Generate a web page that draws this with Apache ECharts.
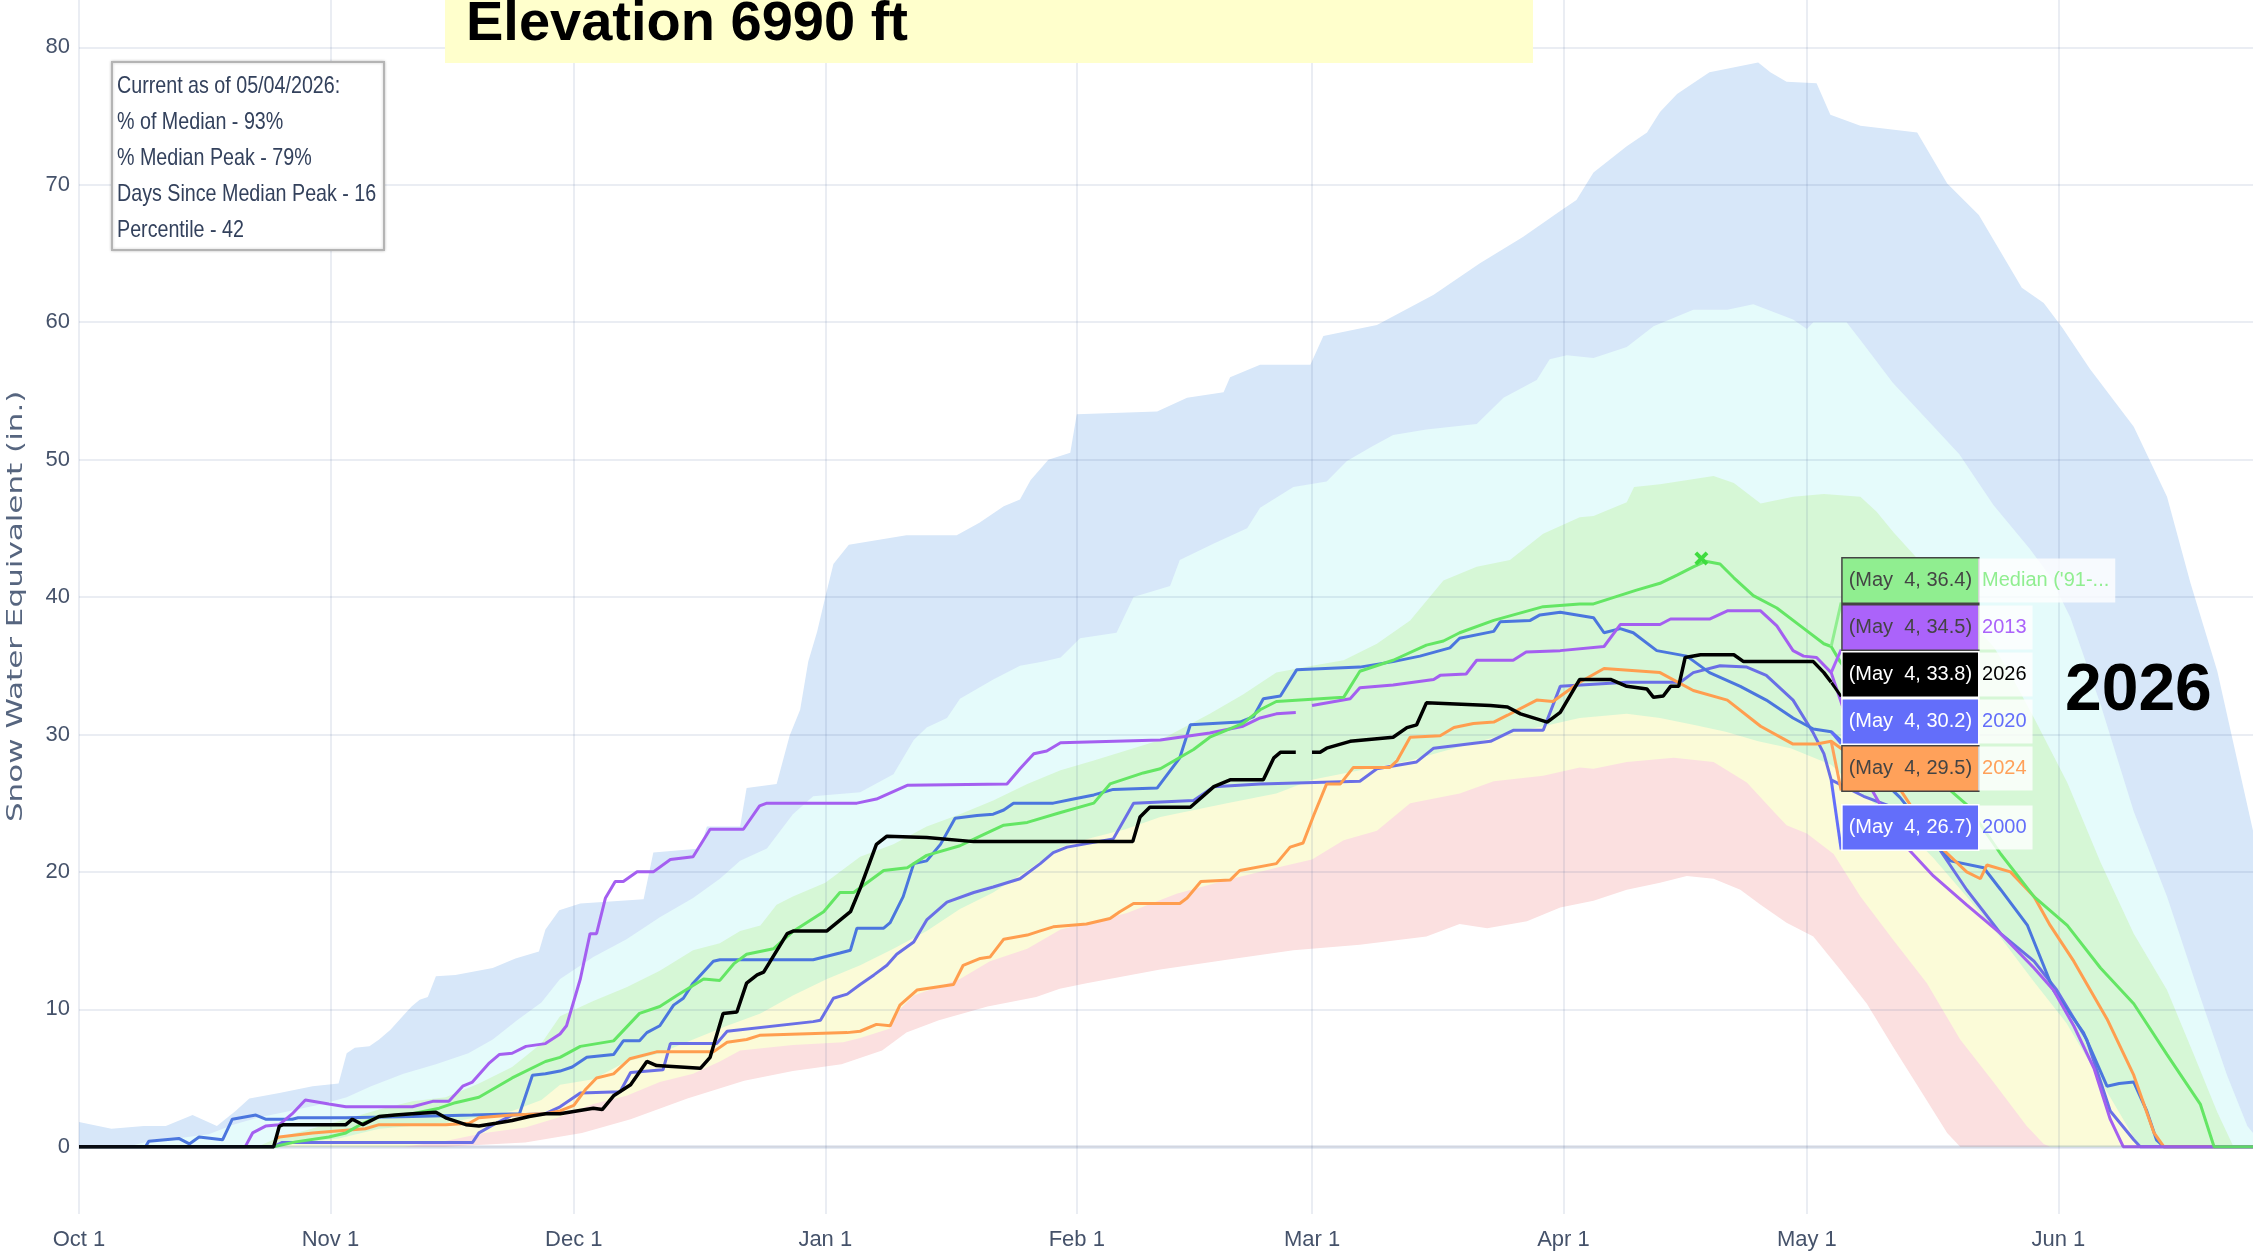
<!DOCTYPE html>
<html>
<head>
<meta charset="utf-8">
<title>Snow Water Equivalent - Elevation 6990 ft</title>
<script src="https://cdn.jsdelivr.net/npm/echarts@6/dist/echarts.min.js"></script>
<style>
  html, body { margin: 0; padding: 0; background: #fff; }
  #main { width: 2253px; height: 1256px; }
</style>
</head>
<body>
<div id="main"></div>
<script>
// x = day counted from Oct 1 on a leap-year calendar (Feb 29 kept as a slot)
var tickDays = [0, 31, 61, 92, 123, 152, 183, 213, 244];
var tickLabels = ['Oct 1', 'Nov 1', 'Dec 1', 'Jan 1', 'Feb 1', 'Mar 1', 'Apr 1', 'May 1', 'Jun 1'];
var yTicks = [0, 10, 20, 30, 40, 50, 60, 70, 80];

// percentile band edges (in.)
var bandMax = [[0,1.8],[4,1.3],[8,1.5],[10.7,1.5],[14,2.3],[17,1.5],[19.3,2.6],[21,3.5],[24.7,3.9],[28.8,4.4],[32,4.6],[33,6.8],[34,7.2],[35.8,7.3],[37,7.8],[38.4,8.5],[39.9,9.5],[41,10.2],[42,10.7],[43,10.9],[44,12.4],[46.4,12.5],[51,13],[53.8,13.7],[56.7,14.2],[57.5,15.8],[59.2,17.2],[61.8,17.7],[69.6,18],[70.8,21.4],[76.6,21.7],[77.4,23.3],[81.5,23.3],[82.3,26.1],[86,26.4],[87.6,29.9],[88.9,31.8],[89.9,35.3],[91,37.5],[92,40],[93,42.4],[94.9,43.8],[102,44.5],[108.2,44.5],[111,45.4],[114,46.6],[116,47.1],[117.3,48.5],[119.5,50],[122.2,50.5],[123,53.3],[132.9,53.5],[136.6,54.5],[141.1,54.9],[141.9,56],[145.6,56.9],[151.8,56.9],[153.4,59],[160,59.8],[167,62],[172.7,64.3],[178,66.2],[182.6,68.1],[184.6,68.9],[186.7,70.9],[190.8,72.8],[193.3,73.8],[194.9,75.3],[197,76.6],[201,78.2],[207,78.9],[208.5,78.2],[210.5,77.5],[214.2,77.4],[215.9,75.1],[219.6,74.3],[226.6,73.8],[230.3,70.1],[234.2,67.8],[239.5,62.5],[242.2,61.4],[244.5,59.6],[247.9,56.6],[253.3,52.4],[257.4,47.3],[260.3,41],[263.6,34.6],[268,23]];
var bandP90 = [[0,0],[6,0],[8,0.3],[12,0.6],[16,0.9],[19,1.6],[22,2.1],[26,2.6],[30,3.1],[33,3.6],[36,4.4],[40,5.3],[44,6],[48,6.8],[51,7.8],[54,9.2],[57,10.5],[59.3,12.2],[63.4,13.8],[67.5,15.1],[71.6,16.7],[75.7,18.1],[79,19.5],[81.5,20.8],[84.8,21.7],[88,24.2],[90.5,25.5],[96.3,25.8],[100.4,27.1],[102.9,29.6],[104.5,30.5],[107,31.2],[108.6,32.6],[112.7,34],[116,35],[118.9,35.3],[121,35.6],[123.4,37],[127.9,37.4],[130,40],[134.5,40.8],[135.7,42.7],[139.9,43.9],[144,45],[145.6,46.5],[149.7,48],[153.8,48.4],[156.3,49.9],[159.5,51],[162,51.8],[166.1,52.2],[172.3,52.6],[175.6,54.5],[179.7,55.8],[181.3,57.3],[183.4,57.6],[186.7,57.4],[190.8,58.2],[194.1,59.7],[199,60.9],[203.2,60.9],[206.4,61.3],[211.3,60.2],[213,59.5],[213.8,60],[217.9,60],[219.6,58.7],[223.6,55.6],[227.7,53],[231.8,50.4],[236,46.7],[240.5,43.5],[243,41.5],[245.5,38.5],[249.2,32.2],[253.3,24.4],[257.4,18.2],[261.5,10.9],[264.8,5.2],[267.3,1.5],[268,1]];
var bandP70 = [[0,0],[22,0],[24.7,0.7],[28,1.2],[32.9,2],[37,2.7],[41.1,3.3],[45.2,3.6],[49.3,4.6],[53.4,5.8],[57,7.5],[59.3,9.5],[63.4,10.6],[67.5,11.6],[71.6,12.8],[75.7,14.3],[79,14.8],[81.5,15.7],[84,16.1],[86,17.6],[88,18.2],[92,19.2],[96.3,21.1],[100.4,22],[104.5,23.3],[108.6,24.2],[112.7,25.2],[116.9,26.4],[121,27.4],[125.1,28.1],[133.3,29.6],[139.4,31.5],[143.5,32.9],[147.6,34.5],[152,35],[155.9,35.4],[160,36.6],[164.1,38.3],[168.2,41.2],[172.3,42.2],[176.4,42.7],[180.5,44.6],[185,45.8],[186.7,45.9],[190.8,46.9],[191.7,48],[194.9,48.2],[201.5,48.8],[204,48.3],[207.3,46.8],[211.3,47.3],[215.1,47.5],[219.6,47.3],[221.6,46.2],[223.7,44.7],[227.7,42.1],[231.8,39],[236,36.4],[238,34.5],[241,31.2],[245.1,26.5],[249.2,20.7],[253.3,15.5],[257.4,11.4],[260.7,6.7],[263.6,2.5],[265.6,0],[268,0]];
var bandP30 = [[0,0],[24,0],[26,0.2],[32,0.6],[37,1.3],[45,1.7],[53.4,2.6],[57,3.4],[59.3,4.5],[63.4,4.9],[67.5,6.2],[71.6,6.8],[75.7,7.8],[79.9,8.8],[84,9.7],[88,11],[92.2,12.2],[96.3,13.2],[100.4,14.4],[104.5,15.7],[108.6,17.3],[112.7,18.5],[116.9,20.1],[121,21.8],[125,22.5],[129,23.1],[133.3,24],[141.5,25],[147.6,25.7],[152,26.7],[157.9,27.4],[164.1,28.1],[170.2,29.1],[176.4,30.1],[180.5,30.6],[185,31.2],[190.8,31.5],[194.9,31.2],[199,30.7],[203,30.2],[207,29.5],[211,29],[216,27.8],[220,25.6],[224.5,23.5],[228.6,21],[232.7,18.2],[236.9,15.2],[241,12],[245,9],[249,5],[252,2],[254,0],[268,0]];
var bandP10 = [[0,0],[40,0],[45,0.4],[50,1],[55,1.4],[59,2.1],[63.4,3.1],[67.5,3.7],[71.6,4.7],[75.7,5.3],[79,6.2],[81.5,7],[88,7.4],[94.2,7.6],[96.3,7.9],[100,8.6],[101.2,10],[102.9,11],[108.6,12.2],[112.3,13.5],[116.9,14.4],[121,15.8],[129.2,17],[135.3,18.4],[141.5,19.4],[147.6,20.3],[152,20.9],[155.9,22.3],[160,23],[164.1,25],[170.2,25.7],[174.4,26.6],[180.5,27],[185,27.6],[186.7,27.5],[190.8,28],[196.6,28.3],[201.5,28],[205.6,26.5],[208.9,24.4],[210.5,23.4],[213,22.8],[216.3,21.3],[219.6,18.2],[223.7,15],[227.8,11.9],[231.9,7.8],[236,4.7],[240.1,1.5],[242.2,0.2],[243,0],[268,0]];
var bandMin = [[0,0],[45,0],[55,0.3],[62,1],[68,2],[75,3.5],[82,4.8],[88,5.5],[94,6],[99,7],[102,8.3],[106,9.2],[112,10.2],[118,10.9],[120.9,11.5],[124.2,11.9],[133.3,12.9],[141.5,13.6],[149.7,14.3],[157.9,14.7],[166.1,15.3],[170.2,16.2],[173.6,15.9],[178.5,16.4],[182.6,17.4],[186.7,17.9],[190.8,18.7],[194.9,19.2],[198.2,19.7],[201.5,19.5],[204.8,18.7],[207.3,17.6],[210.5,16.3],[213.8,15.3],[217.1,12.9],[220.4,10.4],[223.7,7.2],[227,4.1],[230.3,1],[231.9,0],[268,0]];

// median and selected years (in.)
var median = [[0,0],[24,0],[26.7,0.35],[30.8,0.7],[32.9,1],[35,1.7],[37,2.2],[41.1,2.4],[44.4,2.8],[46.4,3.2],[49.3,3.6],[53.4,5],[57.5,6.2],[59.3,6.5],[61.8,7.3],[65.9,7.7],[69.1,9.7],[71.6,10.2],[73.7,11],[77,12.2],[79,12.1],[80.7,13.3],[82.3,14],[85.6,14.4],[88.1,15.7],[91.8,17.1],[93.8,18.5],[95.5,18.5],[99.2,20.1],[102.1,20.3],[104.5,21.2],[108.6,21.9],[111.1,22.6],[114,23.4],[116.9,23.6],[120.9,24.3],[125.1,25],[127.1,26.4],[131.2,27.2],[133.3,27.5],[137.4,28.9],[139.4,29.8],[143.5,30.8],[145.6,31.8],[147.6,32.4],[155.9,32.7],[157.9,34.6],[162,35.4],[166.1,36.5],[168.2,36.8],[170.2,37.4],[174.4,38.3],[180.5,39.3],[185,39.5],[186.7,39.5],[192,40.5],[194.9,41],[197,41.6],[199,42.2],[200.5,42.6],[202.3,42.4],[204,41.4],[206.4,40.1],[209.3,39.2],[212.2,37.9],[215.1,36.6],[216,36.4],[217.1,35.3],[220,33],[224,30],[228.6,27],[232.7,24.9],[236.9,21.3],[241,18.2],[245.1,16.1],[249.2,13],[253.3,10.4],[257.4,6.7],[261.5,3.1],[263.2,0],[268,0]];
var medianPeak = [[200, 42.8]];
var wy2026 = [[0,0],[24,0],[24.7,1.5],[25.2,1.6],[32.9,1.6],[33.7,2],[35,1.6],[37,2.2],[39,2.3],[41.1,2.4],[44,2.5],[45.2,2.1],[47.7,1.6],[49.3,1.5],[51.4,1.7],[53.4,1.9],[55.5,2.2],[57.5,2.4],[59.3,2.4],[63.4,2.8],[64.5,2.7],[65.9,3.7],[68,4.5],[70,6.2],[71.2,5.9],[76.6,5.7],[77.8,6.5],[79.4,9.7],[81.1,9.8],[82.3,11.9],[83.6,12.5],[84.4,12.7],[87.3,15.5],[88.1,15.7],[92.2,15.7],[95.1,17.1],[96.3,18.8],[98.3,22],[99.6,22.6],[104.5,22.5],[110.3,22.2],[129.9,22.2],[130.8,24],[132,24.7],[137,24.7],[139.9,26.2],[141.9,26.7],[146,26.7],[147.3,28.3],[148.1,28.7],[150,28.7],[151,null],[152,28.7],[153,28.7],[153.8,29],[156.7,29.5],[162,29.8],[163.7,30.5],[164.9,30.7],[166.1,32.3],[174,32.1],[176.1,32],[177.7,31.5],[181,30.9],[182.6,31.6],[185,34],[188.8,34],[190.8,33.5],[193.3,33.3],[194.1,32.7],[195.3,32.8],[196.2,33.5],[197.2,33.5],[198,35.6],[199.9,35.8],[204,35.8],[205.2,35.3],[213.8,35.3],[215.1,34.5],[216,33.8]];
var wy2013 = [[0,0],[20.5,0],[21.4,1],[23,1.5],[24.7,1.6],[26.3,2.4],[27.9,3.4],[30.8,3.1],[32.9,2.9],[41.1,2.9],[43.6,3.3],[45.6,3.3],[47.3,4.4],[48.5,4.7],[50.6,6.1],[51.8,6.7],[53.4,6.8],[55.1,7.3],[57.5,7.5],[59.3,8.2],[60.1,8.8],[61.8,12.2],[63,15.5],[63.8,15.5],[64.9,18.1],[66.1,19.3],[67.1,19.3],[68.8,20],[70.8,20],[72.9,20.9],[75.7,21.1],[77.8,23.1],[81.9,23.1],[83.9,24.8],[84.8,25],[95.9,25],[98.3,25.3],[102.1,26.3],[114.4,26.4],[116,27.5],[117.7,28.6],[119.3,28.8],[121,29.4],[133.3,29.6],[139.4,30.1],[143.5,30.6],[145.6,31.2],[147.6,31.5],[150,31.6],[151,null],[152,32.1],[156.7,32.6],[157.9,33.4],[162,33.6],[167,34],[167.8,34.3],[171,34.4],[172.3,35.4],[176.8,35.4],[178.4,36],[182.6,36.1],[188,36.4],[190,38],[194.9,38],[196.2,38.4],[201,38.4],[203.2,39],[207.3,39],[209.3,37.9],[211.3,36.1],[212.6,35.7],[214.2,35.6],[216,34.5],[218,31],[221,26],[224.5,22.3],[228.6,19.7],[232.7,17.6],[236.9,15.5],[241,13],[243.4,11.4],[245.9,8.8],[248.4,5.7],[250.4,2],[252,0],[268,0]];
var wy2024 = [[0,0],[24,0],[24.3,0.6],[24.7,0.7],[28.8,1],[32.9,1.2],[35.3,1.3],[37,1.6],[45.2,1.6],[48.1,1.7],[49.3,2.1],[53.4,2.3],[57.5,2.4],[59.3,2.6],[61,3],[62.5,4.2],[63.8,5],[65.9,5.3],[67.9,6.4],[71.2,6.9],[78.2,6.9],[79.9,7.6],[82.3,7.8],[83.9,8.1],[94.7,8.3],[96.3,8.4],[98.3,8.9],[100,8.8],[101.2,10.3],[103.3,11.4],[107.8,11.8],[109,13.2],[111.1,13.7],[112.3,13.8],[114,15.1],[116.9,15.4],[118.5,15.7],[120.1,16],[124.2,16.2],[127.1,16.6],[128.3,17.1],[130,17.7],[135.7,17.7],[136.6,18.1],[138.3,19.3],[141.9,19.4],[143.1,20.1],[147.6,20.6],[149.3,21.8],[150.9,22.1],[152.2,24.1],[153.8,26.4],[155.5,26.4],[157.1,27.6],[161.6,27.6],[162.5,28.1],[164.1,29.8],[167.8,29.9],[169.5,30.5],[171.9,30.8],[174.4,30.9],[176.1,31.4],[179.7,32.5],[181.7,32.4],[185,33.8],[188,34.8],[194.9,34.5],[199,33.2],[203.2,32.5],[207.3,30.6],[211.3,29.3],[214.2,29.3],[216,29.5],[220,27.8],[224.5,26],[228.6,22.3],[232.7,20],[234.4,19.5],[235.2,20.5],[238.1,20],[241,18.2],[243,16.1],[245.9,13.5],[250,9.3],[253.3,5.2],[255.8,1],[257,0],[268,0]];
var wy2020 = [[0,0],[8.2,0],[8.6,0.4],[12.3,0.6],[13.6,0.2],[14.8,0.7],[17.7,0.5],[18.9,2],[21.8,2.3],[23,2],[26.3,2],[27,2.1],[32.9,2.1],[41.1,2.2],[48.5,2.3],[54.3,2.4],[55.9,5.2],[57.5,5.3],[59.3,5.5],[60.8,5.8],[62.6,6.5],[65.9,6.7],[67.1,7.7],[69.1,7.7],[70,8.3],[71.6,8.8],[73.3,10.3],[74.5,10.8],[75.7,11.9],[78.2,13.5],[79,13.6],[90.5,13.6],[93.8,14.1],[95.1,14.3],[95.9,15.9],[99.2,15.9],[100,16.3],[101.6,18.2],[102.9,20.6],[104.5,20.8],[106.2,22],[108,23.9],[110.7,24.1],[112.7,24.2],[114,24.5],[115.2,25],[120.1,25],[122.6,25.3],[125.1,25.6],[127.5,26],[132.9,26.1],[135.7,28.3],[137,30.7],[143.1,30.9],[144.8,31.3],[146,32.6],[148.1,32.8],[150.1,34.7],[157.9,34.9],[162,35.3],[165.3,35.7],[169,36.3],[170.2,37],[174.4,37.5],[175.2,38.2],[178.9,38.3],[180.1,38.7],[182.6,38.9],[186.7,38.5],[188,37.4],[190,37.7],[191.6,37.4],[194.5,36.1],[198.2,35.7],[201,34.5],[204.8,33.5],[208,32.5],[211.3,31.2],[213.8,30.4],[216,30.2],[220,28],[224.5,25.4],[230.7,20.8],[234.8,20.3],[236.9,18.7],[240.2,16.1],[243.4,11.4],[247.1,8.3],[250,4.4],[251.5,4.6],[253.3,4.7],[254.9,2.6],[256.1,0.5],[257,0],[268,0]];
var wy2000 = [[0,0],[24,0],[25,0.3],[48.5,0.3],[49.3,1],[51.4,1.7],[53.4,2.3],[57.5,2.4],[59.3,2.9],[61.8,3.9],[66.7,4],[68,5.4],[72,5.6],[72.9,7.5],[78.6,7.5],[79.9,8.4],[90.5,9.1],[91.4,9.2],[93,10.8],[94.7,11.1],[96.3,11.8],[98,12.5],[99.6,13.2],[100.8,14],[102.9,14.9],[104.5,16.5],[107,17.8],[110.3,18.5],[112.7,18.9],[116,19.5],[118.5,20.6],[120.1,21.4],[121.8,21.8],[127.5,22.4],[130,25],[137.4,25.2],[139.9,26.2],[145.6,26.4],[157.9,26.6],[160,27.5],[164.9,28],[167,29],[174,29.5],[176.8,30.3],[180.5,30.3],[182.6,33.5],[190.8,33.8],[197.4,33.8],[199,34.5],[202.3,35],[205.6,34.9],[208,34.3],[211.3,32.5],[213.8,30.1],[215.1,28.6],[216,26.7],[220,25.5],[224.5,24.5],[228.6,22.3],[232.7,18.7],[236.9,15.5],[241,13.5],[243.8,11.4],[247.5,7.8],[250.4,2.6],[253.3,0.5],[254.1,0],[268,0]];

var hoverDay = 216; // May 4
var infoLines = ['Current as of 05/04/2026:', '% of Median - 93%', '% Median Peak - 79%', 'Days Since Median Peak - 16', 'Percentile - 42'];

var sans = "'Liberation Sans', Arial, sans-serif";
var gridColor = 'rgba(60,90,150,0.11)';
var tickColor = '#45526a';
var yMin = -4.9, yMax = 83.45;
var gridTop = 0, gridBottom = 42, chartHeight = 1256;

function band(name, data, color) {
  return {
    name: name, type: 'line', data: data, symbol: 'none', silent: true, z: 1,
    lineStyle: { width: 0 }, areaStyle: { color: color, opacity: 1 }
  };
}
function trace(name, data, color, width) {
  return {
    name: name, type: 'line', data: data, symbol: 'none', silent: true, z: 3,
    lineStyle: { color: color, width: width }, itemStyle: { color: color }
  };
}
function valueAt(arr, day) {
  for (var i = 0; i < arr.length; i++) {
    if (arr[i][0] === day) return arr[i][1];
  }
  return null;
}

var hoverList = [
  { name: "Median ('91-...", data: median, box: '#90ee90', text: '#444444', nameColor: '#90ee90' },
  { name: '2013', data: wy2013, box: '#ab63fa', text: '#444444', nameColor: '#ab63fa' },
  { name: '2026', data: wy2026, box: '#000000', text: '#ffffff', nameColor: '#000000' },
  { name: '2020', data: wy2020, box: '#636efa', text: '#ffffff', nameColor: '#636efa' },
  { name: '2024', data: wy2024, box: '#ffa15a', text: '#444444', nameColor: '#ffa15a' },
  { name: '2000', data: wy2000, box: '#636efa', text: '#ffffff', nameColor: '#636efa' }
];

// stack hover boxes downward so they do not overlap (like a unified hover)
var pxPerUnit = (chartHeight - gridTop - gridBottom) / (yMax - yMin);
var boxStep = 47, boxLift = -66;
var firstVal = valueAt(hoverList[0].data, hoverDay);
var lastCenter = -Infinity;
var hoverData = hoverList.map(function (h, i) {
  var v = valueAt(h.data, hoverDay);
  var py = (firstVal - v) * pxPerUnit;
  var center = Math.max(lastCenter + boxStep + (i === hoverList.length - 1 ? 12 : 0), py + boxLift);
  lastCenter = center;
  return {
    name: h.name,
    value: [hoverDay, v],
    labelLine: { lineStyle: { color: h.box, width: 3, opacity: 1 } },
    label: {
      offset: [0, center - py],
      opacity: 1,
      rich: {
        b: { backgroundColor: h.box, color: h.text, borderColor: h.text, borderWidth: 1.5,
             fontFamily: sans, fontSize: 20, height: 44, lineHeight: 44, padding: [0, 6, 0, 6] },
        n: { backgroundColor: 'rgba(255,255,255,0.8)', color: h.nameColor,
             fontFamily: sans, fontSize: 20, height: 44, lineHeight: 44, padding: [0, 6, 0, 4] }
      }
    }
  };
});

var graphics = [
  { type: 'rect', z: 100, shape: { x: 445, y: 0, width: 1088, height: 63 }, style: { fill: '#ffffcc' } },
  { type: 'text', z: 101, x: 466, y: 25,
    style: { text: 'Elevation 6990 ft', fill: '#000', fontSize: 56, fontWeight: 'bold',
             fontFamily: sans, verticalAlign: 'middle' } },
  { type: 'rect', z: 100, shape: { x: 112, y: 62, width: 272, height: 188 },
    style: { fill: '#ffffff', stroke: '#b4b4b4', lineWidth: 2, shadowBlur: 3, shadowColor: 'rgba(0,0,0,0.2)' } },
  { type: 'text', z: 101, x: 2065, y: 692,
    style: { text: '2026', fill: '#000', fontSize: 66, fontWeight: 'bold',
             fontFamily: sans, verticalAlign: 'middle' } },
  { type: 'text', z: 101, x: 17, y: 422 * 1.4369, rotation: Math.PI / 2, scaleY: 0.66,
    style: { text: 'Snow Water Equivalent (in.)', fill: '#56657f', fontSize: 31,
             fontFamily: "'DejaVu Sans', Verdana, sans-serif", align: 'center', verticalAlign: 'middle' } }
];
infoLines.forEach(function (t, i) {
  graphics.push({ type: 'text', z: 101, x: 117, y: 86 + i * 36, scaleX: 0.82,
    style: { text: t, fill: '#33415c', fontSize: 24, fontFamily: sans, verticalAlign: 'middle' } });
});

var chart = echarts.init(document.getElementById('main'));
chart.setOption({
  animation: false,
  backgroundColor: '#ffffff',
  grid: { left: 79, right: 0, top: gridTop, bottom: gridBottom },
  xAxis: {
    type: 'value', min: 0, max: 268, z: 2,
    axisLine: { show: false },
    axisTick: { show: false, customValues: tickDays },
    axisLabel: {
      customValues: tickDays, margin: 15, color: tickColor, fontSize: 22, fontFamily: sans,
      formatter: function (v) { return tickLabels[tickDays.indexOf(v)]; }
    },
    splitLine: { show: true, lineStyle: { color: gridColor, width: 2 } }
  },
  yAxis: {
    type: 'value', min: yMin, max: yMax, z: 2,
    axisLine: { show: false },
    axisTick: { show: false, customValues: yTicks },
    axisLabel: { customValues: yTicks, margin: 9, color: tickColor, fontSize: 22, fontFamily: sans },
    splitLine: { show: true, lineStyle: { color: gridColor, width: 2 } }
  },
  graphic: graphics,
  series: [
    band('Max', bandMax, '#d7e7f9'),
    band('90%', bandP90, '#e5fbfb'),
    band('70%', bandP70, '#d6f7d6'),
    band('30%', bandP30, '#fbfbd8'),
    band('10%', bandP10, '#fbe0e0'),
    Object.assign(band('Min', bandMin, '#ffffff'), {
      markLine: { silent: true, symbol: ['none', 'none'], label: { show: false },
        lineStyle: { type: 'solid', color: 'rgba(60,90,150,0.12)', width: 4 }, data: [{ yAxis: 0 }] }
    }),
    trace('2000', wy2000, '#6a6fe6', 3),
    trace('2020', wy2020, '#4b76de', 3),
    trace('2024', wy2024, '#ff9e4f', 3),
    trace('2013', wy2013, '#a45ff0', 3),
    trace("Median ('91-'20)", median, '#64e664', 3),
    trace('2026', wy2026, '#000000', 3.5),
    {
      name: 'Median peak', type: 'scatter', data: medianPeak, z: 4, silent: true,
      symbol: 'path://M0,2 L2,0 L5,3 L8,0 L10,2 L7,5 L10,8 L8,10 L5,7 L2,10 L0,8 L3,5 Z',
      symbolSize: 14, itemStyle: { color: '#3fdc3f', opacity: 1 }
    },
    {
      name: 'hover', type: 'scatter', data: hoverData, z: 10, silent: true,
      symbol: 'circle', symbolSize: 1, itemStyle: { color: 'rgba(0,0,0,0)', opacity: 1 },
      label: {
        show: true, position: 'right', distance: 11,
        formatter: function (p) {
          return '{b|(May  4, ' + p.value[1].toFixed(1) + ')}{n|' + p.name + '}';
        }
      },
      labelLine: { show: true, length2: 0 }
    }
  ]
});
</script>
</body>
</html>
